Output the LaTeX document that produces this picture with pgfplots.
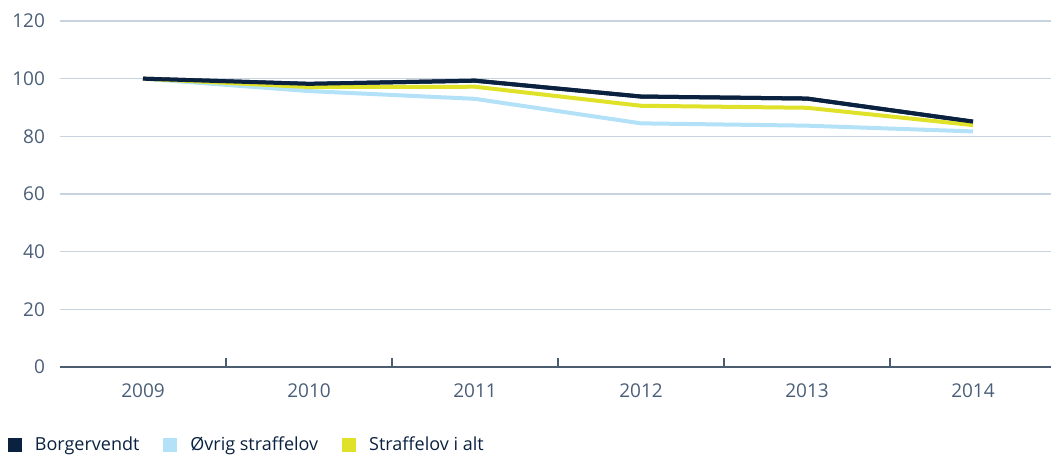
\documentclass[border=0pt]{standalone}
\usepackage{fontspec}
\setmainfont{Open Sans}
\usepackage{pgfplots}
\pgfplotsset{compat=1.18}

\definecolor{navy}{HTML}{0A2240}
\definecolor{lightblue}{HTML}{B3E1F7}
\definecolor{lime}{HTML}{E0E22A}
\definecolor{txt}{HTML}{4A5E78}
\definecolor{gridc}{HTML}{C8D3E0}
\definecolor{axc}{HTML}{4D5D70}

\begin{document}
\begin{tikzpicture}
\begin{axis}[
    name=ax,
    scale only axis,
    width=495.5pt, height=173pt,
    xmin=-0.5, xmax=5.47,
    ymin=0, ymax=120,
    axis x line=bottom, axis y line=left,
    x axis line style={axc, line width=0.8pt, -},
    y axis line style={draw=none},
    xtick={0,1,2,3,4,5},
    xticklabels={2009,2010,2011,2012,2013,2014},
    minor xtick={0.5,1.5,2.5,3.5,4.5},
    major tick length=0pt,
    minor tick length=4.5pt,
    xtick align=inside,
    minor tick style={axc, line width=0.7pt},
    ytick={0,20,...,120},
    ymajorgrids,
    grid style={gridc, line width=0.6pt},
    ytick style={draw=none},
    yticklabel style={font=\fontsize{9.5}{11}\selectfont, text=txt, xshift=-4pt},
    xticklabel style={font=\fontsize{9.5}{11}\selectfont, text=txt, yshift=-5pt},
    /pgf/number format/assume math mode=true,
    clip=false,
    legend style={draw=none, fill=none, at={(-0.053,-0.188)}, anchor=north west,
        legend columns=-1, font=\fontsize{9}{11}\selectfont, text=navy,
        inner sep=0pt,
        /tikz/every even column/.append style={column sep=10pt}},
    legend image code/.code={\fill[#1, draw=none] (0pt,-3.5pt) rectangle (7pt,3.5pt);
        \path[draw=none, fill=none] (0pt,0pt) -- (11.5pt,0pt);},
    every axis plot/.append style={line width=2pt, line join=round},
]
\addplot[navy] coordinates {(0,100) (1,98.2) (2,99.3) (3,93.8) (4,93.1) (5,85.1)};
\addplot[lightblue] coordinates {(0,100) (1,95.7) (2,93.0) (3,84.5) (4,83.7) (5,81.7)};
\addplot[lime] coordinates {(0,100) (1,97.1) (2,97.2) (3,90.6) (4,89.9) (5,83.9)};
\addplot[navy, forget plot] coordinates {(0,100) (1,98.2) (2,99.3) (3,93.8) (4,93.1) (5,85.1)};
\legend{Borgervendt, Øvrig straffelov, Straffelov i alt}
\end{axis}
\pgfresetboundingbox
\path[use as bounding box] ([xshift=-30pt,yshift=-44pt]ax.south west) rectangle ([xshift=495.5pt,yshift=183.5pt]ax.south west);
\end{tikzpicture}
\end{document}
